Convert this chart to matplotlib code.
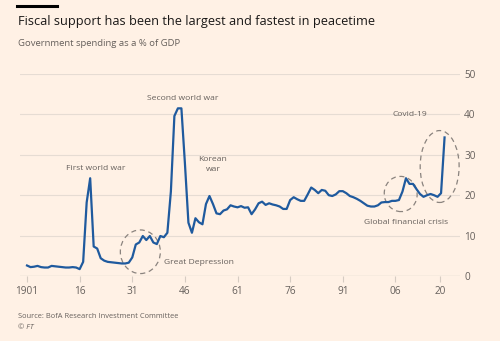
import matplotlib
matplotlib.use("Agg")
import matplotlib.pyplot as plt
from matplotlib.patches import Ellipse
from matplotlib.lines import Line2D

years = list(range(1901, 2021))
spending = [
    2.6, 2.2, 2.3, 2.5, 2.2, 2.1, 2.1, 2.5, 2.4, 2.3,   # 1901-1910
    2.2, 2.1, 2.1, 2.2, 2.1, 1.7, 3.5, 18.2, 24.2, 7.3,  # 1911-1920
    6.8, 4.4, 3.8, 3.5, 3.4, 3.3, 3.2, 3.1, 3.1, 3.3,    # 1921-1930
    4.6, 7.8, 8.3, 9.9, 8.9, 9.9, 8.3, 7.9, 9.9, 9.6,    # 1931-1940
    10.7, 20.9, 39.6, 41.5, 41.5, 27.9, 13.2, 10.7, 14.3, 13.3,  # 1941-1950
    12.8, 17.8, 19.8, 17.8, 15.5, 15.3, 16.2, 16.5, 17.5, 17.2,  # 1951-1960
    17.0, 17.3, 16.9, 17.0, 15.3, 16.5, 18.0, 18.4, 17.6, 18.0,  # 1961-1970
    17.7, 17.5, 17.2, 16.6, 16.6, 18.8, 19.5, 19.0, 18.6, 18.6,  # 1971-1980
    20.2, 21.9, 21.3, 20.5, 21.3, 21.1, 20.0, 19.8, 20.2, 21.0,  # 1981-1990
    21.0, 20.5, 19.8, 19.5, 19.1, 18.6, 18.0, 17.4, 17.2, 17.2,  # 1991-2000
    17.5, 18.2, 18.3, 18.3, 18.6, 18.6, 18.8, 20.9, 24.2, 22.8,  # 2001-2010
    22.8, 21.5, 20.3, 19.6, 20.0, 20.3, 20.0, 19.6, 20.5, 34.3,  # 2011-2020
]
tick_years = [1901, 1916, 1931, 1946, 1961, 1976, 1991, 2006, 2018.7]
tick_labels = ["1901", "16", "31", "46", "61", "76", "91", "06", "20"]
y_ticks = [0, 10, 20, 30, 40, 50]

bg = "#fff1e5"
blue = "#1f5a9e"
grey = "#66605c"
grid = "#e6dcd3"

plt.rcParams["font.family"] = ["Open Sans", "DejaVu Sans"]

fig = plt.figure(figsize=(5, 3.41), dpi=100, facecolor=bg)
W, H = 500, 341
ax = fig.add_axes([20 / W, 1 - 276 / H, 440 / W, 202 / H])
ax.set_facecolor(bg)

ax.plot(years, spending, color=blue, lw=1.6, clip_on=False, zorder=3)

ax.set_xlim(1899, 2024.4)
ax.set_ylim(0, 50)
ax.set_yticks(y_ticks)
ax.yaxis.tick_right()
ax.tick_params(axis="y", length=0, pad=3, labelsize=7.2, labelcolor=grey)
ax.set_xticks(tick_years)
ax.set_xticklabels(tick_labels)
ax.tick_params(axis="x", length=4, width=0.8, color="#d6ccc2", pad=3,
               labelsize=7.2, labelcolor=grey)
ax.grid(axis="y", color=grid, lw=0.8)
for s in ax.spines.values():
    s.set_visible(False)
ax.axhline(0, color="#d6ccc2", lw=0.9, zorder=1)

# annotations
txt = dict(fontsize=6.1, color=grey, ha="center", va="center")
ax.text(1920.5, 26.5, "First world war", **txt)
ax.text(1945.5, 44, "Second world war", **txt)
ax.text(1954, 27.5, "Korean\nwar", linespacing=1.6, **txt)
ax.text(1940, 3.4, "Great Depression", fontsize=6.1, color=grey, ha="left", va="center")
ax.text(2010, 40, "Covid-19", **txt)
ax.text(2009, 13.3, "Global financial crisis", **txt)

el = dict(fill=False, ls=(0, (4, 3)), lw=0.9, color="#8a837e", zorder=2)
ax.add_patch(Ellipse((1933.3, 6.0), 11.4, 10.8, **el))
ax.add_patch(Ellipse((2007.5, 20.3), 9.4, 8.7, angle=-10, **el))
ax.add_patch(Ellipse((2018.6, 27.1), 11.1, 17.8, **el))

# header and footer
fig.add_artist(Line2D([17 / W, 57 / W], [1 - 6 / H, 1 - 6 / H], color="black", lw=2.2))
fig.text(18 / W, 1 - 22 / H, "Fiscal support has been the largest and fastest in peacetime",
         fontsize=9.2, color="#1a1817", va="center")
fig.text(18 / W, 1 - 43.5 / H, "Government spending as a % of GDP",
         fontsize=6.8, color=grey, va="center")
fig.text(18 / W, 1 - 317 / H, "Source: BofA Research Investment Committee",
         fontsize=5.45, color=grey, va="center")
fig.text(18 / W, 1 - 327.5 / H, "© FT", fontsize=5.45, color=grey, va="center",
         style="italic")

fig.savefig("out.png", dpi=100, facecolor=bg)
